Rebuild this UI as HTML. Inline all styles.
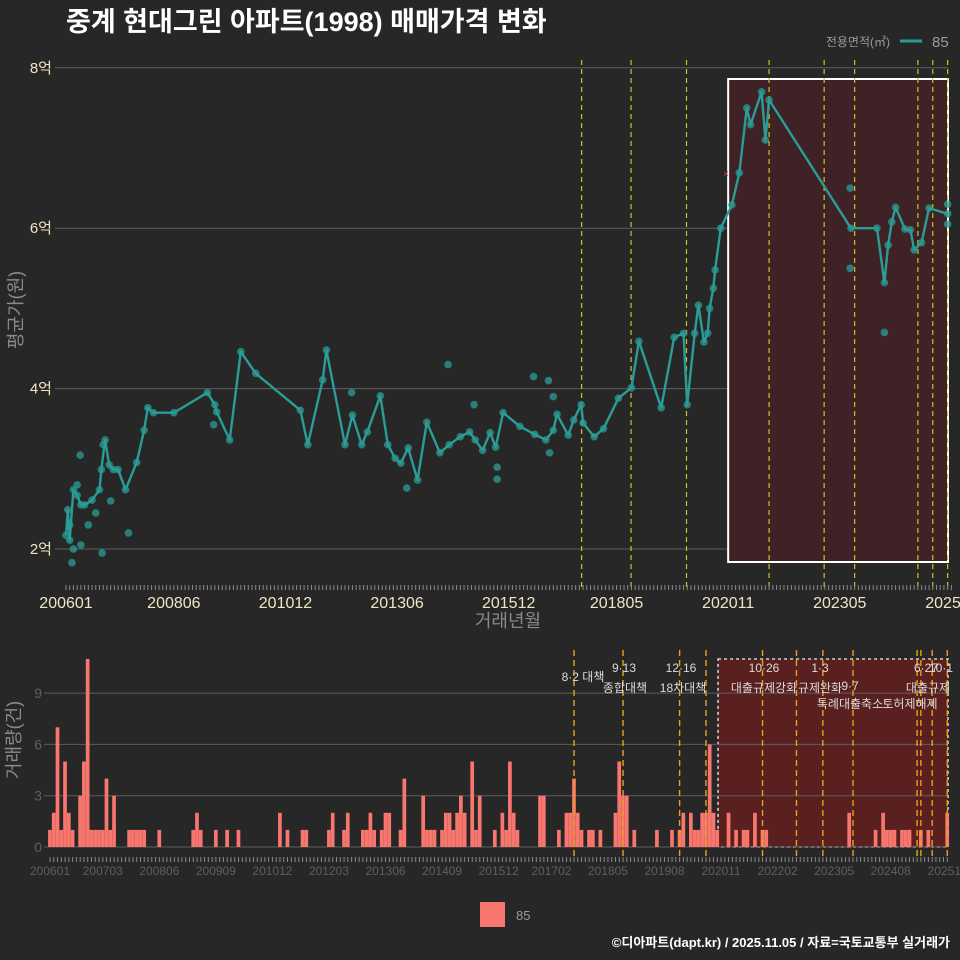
<!DOCTYPE html>
<html><head><meta charset="utf-8">
<style>
html,body{margin:0;padding:0;background:#282728;}
svg{display:block;font-family:"Liberation Sans","Noto Sans CJK KR",sans-serif;}
</style></head>
<body>
<svg id="chart" width="960" height="960" viewBox="0 0 960 960" xmlns="http://www.w3.org/2000/svg">
<rect x="0" y="0" width="960" height="960" fill="#282728"/>
<text x="66" y="31" fill="#ffffff" font-size="27" font-weight="bold">중계 현대그린 아파트(1998) 매매가격 변화</text>
<text x="890" y="46" fill="#9a9a9a" font-size="12" text-anchor="end">전용면적(㎡)</text>
<line x1="900" y1="41" x2="922" y2="41" stroke="#2a9d96" stroke-width="3"/>
<text x="932" y="47" fill="#9a9a9a" font-size="15">85</text>
<g id="topG"></g>
<g id="botG"></g>
<rect x="480" y="902" width="25" height="25" fill="#f8766d"/>
<text x="516" y="920" fill="#999" font-size="13">85</text>
<text x="950" y="947" fill="#ffffff" font-size="13" font-weight="bold" text-anchor="end">©디아파트(dapt.kr) / 2025.11.05 / 자료=국토교통부 실거래가</text>
</svg>
<script>
// ---- data ----
const xLabels = ["200601","200806","201012","201306","201512","201805","202011","202305","202511"];
const xLabelMonths = [0,29,59,89,119,148,178,208,238];
const bxLabels = ["200601","200703","200806","200909","201012","201203","201306","201409","201512","201702","201805","201908","202011","202202","202305","202408","202511"];
const bxLabelMonths = [0,14,29,44,59,74,89,104,119,133,148,163,178,193,208,223,238];
const yTicks = [2,4,6,8];
const yTickLabels = ["2억","4억","6억","8억"];
const vTicks = [0,3,6,9];
const lineMonths = [0,0.5,1,2,3,4,5,7,9,9.5,10.5,11.6,12.7,14,16,19,21,22,23.5,29,38,40,40.5,44,47,51,63,65,69,70,75,77,79.5,81,84.5,86.5,88.5,90,92,94.5,97,100.5,103,106,108.5,110,112,114,115.5,117.5,122,126,129,131,132,135,136.5,138.5,139,142,144.5,148.5,152,154,160,163.5,166,167,169,170,171.5,172.5,173,174,174.5,176,179,181,183,184,187,188,189,211,218,220,221,222,223,225.5,227,228,230,232,237];
const linePrices = [2.17,2.49,2.11,2.74,2.67,2.55,2.55,2.61,2.74,2.99,3.36,3.05,2.99,2.99,2.74,3.08,3.48,3.76,3.70,3.70,3.95,3.80,3.71,3.36,4.46,4.19,3.73,3.30,4.11,4.48,3.30,3.67,3.30,3.46,3.91,3.30,3.13,3.07,3.26,2.86,3.58,3.20,3.30,3.40,3.46,3.36,3.23,3.45,3.27,3.70,3.53,3.43,3.36,3.48,3.68,3.42,3.61,3.80,3.57,3.40,3.50,3.88,4.01,4.59,3.76,4.64,4.69,3.80,4.69,5.04,4.58,4.69,5.00,5.25,5.48,6.00,6.29,6.69,7.50,7.29,7.70,7.10,7.60,6.00,6.00,5.32,5.79,6.08,6.26,5.99,5.98,5.73,5.82,6.25,6.18];
const dotMonths = [3.8,1.6,9.7,16.8,39.7,76.8,102.7,91.6,115.9,115.9,125.7,129.7,130,131,109.7,2,4,6,8,10,12,1,3,210.8,210.8,220,237,237];
const dotPrices = [3.17,1.83,1.95,2.2,3.55,3.95,4.3,2.76,3.02,2.87,4.15,4.1,3.2,3.9,3.8,2.0,2.05,2.3,2.45,3.3,2.6,2.3,2.8,6.5,5.5,4.7,6.3,6.05];
const topPolicyMonths = [138.6,151.9,166.8,189,203.8,212,229,233,237];
const botPolicyMonths = [139,152,167,174,189,198,205,213,230,231,234,238];
const volMonths = [0,1,2,3,4,5,6,8,9,10,11,12,13,14,15,16,17,21,22,23,24,25,29,38,39,40,44,47,50,61,63,67,68,74,75,78,79,83,84,85,86,88,89,90,93,94,99,100,101,102,104,105,106,107,108,109,110,112,113,114,118,120,121,122,123,124,130,131,135,137,138,139,140,141,143,144,146,150,151,152,153,155,161,165,167,168,170,171,172,173,174,175,176,177,180,182,184,185,187,189,190,212,219,221,222,223,224,226,227,228,231,233,238];
const volValues = [1,2,7,1,5,2,1,3,5,11,1,1,1,1,4,1,3,1,1,1,1,1,1,1,2,1,1,1,1,2,1,1,1,1,2,1,2,1,1,2,1,1,2,2,1,4,3,1,1,1,1,2,2,1,2,3,2,5,1,3,1,2,1,5,2,1,3,3,1,2,2,4,2,1,1,1,1,2,5,3,3,1,1,1,1,2,2,1,1,2,2,6,2,1,2,1,1,1,2,1,1,2,1,2,1,1,1,1,1,1,1,1,2];
const annotations = [
 ["8·2 대책",583,681],["9·13",624,672],["종합대책",625,692],["12·16",681,672],["18차대책",683,692],
 ["10·26",764,672],["대출규제강화",764,692],["1·3",820,672],["규제완화",820,692],["9·7",850,690],
 ["특례대출축소",850,708],["토허제해제",910,708],["6·27",926,672],["10·1",941,672],["대출규제",928,692]];

const NS="http://www.w3.org/2000/svg";
function mk(parent,tag,attrs){const e=document.createElementNS(NS,tag);for(const k in attrs)e.setAttribute(k,attrs[k]);parent.appendChild(e);return e;}
const tx = m => 66 + m*3.72;
const ty = v => 549 - (v-2)*80.2;
const bx = m => 50 + m*3.77;
const by = v => 847 - v*17.1;

const topG = document.getElementById('topG');
const botG = document.getElementById('botG');

// ---- top chart ----
yTicks.forEach((v,i)=>{
  const g=mk(topG,'line',{x1:55,x2:948,y1:ty(v),y2:ty(v),stroke:'#5e5e5e','stroke-width':1});
  
  
  const t=mk(topG,'text',{x:52,y:ty(v)+5,fill:'#efe6c2','font-size':15,'text-anchor':'end'});
  t.textContent=yTickLabels[i];
  
  
});
const shade=mk(topG,'rect',{x:tx(178),y:79,width:948-tx(178),height:483,fill:'#3e2226',stroke:'#ffffff','stroke-width':2});


topPolicyMonths.forEach(m=>{
  const l=mk(topG,'line',{x1:tx(m),x2:tx(m),y1:60,y2:588,stroke:'#c8c81e','stroke-width':1.2,'stroke-dasharray':'5,4'});
  
  
});
for(let m=0;m<=238;m++){
  const t=mk(topG,'line',{x1:tx(m),x2:tx(m),y1:585,y2:590,stroke:'#8a8a8a','stroke-width':1});
  
  
}
xLabels.forEach((s,i)=>{
  const t=mk(topG,'text',{x:tx(xLabelMonths[i]),y:608,fill:'#efe6c2','font-size':16,'text-anchor':'middle'});
  t.textContent=s;
  
  
});
const xt=mk(topG,'text',{x:508,y:627,fill:'#8a8a8a','font-size':18,'text-anchor':'middle'});
xt.textContent='거래년월';


const yt=mk(topG,'text',{x:0,y:0,fill:'#8a8a8a','font-size':18,'text-anchor':'middle',transform:'translate(22,310) rotate(-90)'});
yt.textContent='평균가(원)';


dotMonths.forEach((m,i)=>{
  const c=mk(topG,'circle',{cx:tx(m),cy:ty(dotPrices[i]),r:3.8,fill:'#2a9d96','fill-opacity':0.75});
  
  
});
lineMonths.forEach((m,i)=>{
  const c=mk(topG,'circle',{cx:tx(m),cy:ty(linePrices[i]),r:3.8,fill:'#2a9d96','fill-opacity':0.75});
  
  
});
const pts=lineMonths.map((m,i)=>tx(m).toFixed(1)+','+ty(linePrices[i]).toFixed(1)).join(' ');
const pl=mk(topG,'polyline',{points:pts,fill:'none',stroke:'#2a9d96','stroke-width':2.4,'stroke-linejoin':'round'});


const xm=mk(topG,'text',{x:726,y:177,fill:'#e03030','font-size':10,'text-anchor':'middle'});
xm.textContent='×';



// ---- bottom chart ----
const bshade=mk(botG,'rect',{x:bx(178)-3,y:659,width:948-bx(178)+3,height:188,fill:'#5a2020',stroke:'#cfcfcf','stroke-width':1.6,'stroke-dasharray':'3,3'});


vTicks.forEach(v=>{
  const g=mk(botG,'line',{x1:44,x2:948,y1:by(v),y2:by(v),stroke:'#5e5e5e','stroke-width':1});
  
  
  const t=mk(botG,'text',{x:42,y:by(v)+5,fill:'#5f5f5f','font-size':14,'text-anchor':'end'});
  t.textContent=String(v);
  
  
});
volMonths.forEach((m,i)=>{
  const v=volValues[i];
  if(!v) return;
  const r=mk(botG,'rect',{x:bx(m)-1.9,y:by(v),width:3.7,height:v*17.1,fill:'#f8766d'});
  
  
});
botPolicyMonths.forEach(m=>{
  const l=mk(botG,'line',{x1:bx(m),x2:bx(m),y1:650,y2:858,stroke:'#e8a317','stroke-width':1.4,'stroke-dasharray':'6,4'});
  
  
});
annotations.forEach(a=>{
  const t=mk(botG,'text',{x:a[1],y:a[2],fill:'#dcdcdc','font-size':12,'text-anchor':'middle'});
  t.textContent=a[0];
  
  
});
for(let m=0;m<=238;m++){
  const t=mk(botG,'line',{x1:bx(m),x2:bx(m),y1:857,y2:862,stroke:'#8a8a8a','stroke-width':1});
  
  
}
bxLabels.forEach((s,i)=>{
  const t=mk(botG,'text',{x:bx(bxLabelMonths[i]),y:875,fill:'#5f5f5f','font-size':12,'text-anchor':'middle'});
  t.textContent=s;
  
  
});
const vyt=mk(botG,'text',{x:0,y:0,fill:'#8a8a8a','font-size':18,'text-anchor':'middle',transform:'translate(20,740) rotate(-90)'});
vyt.textContent='거래량(건)';


</script>
</body></html>
